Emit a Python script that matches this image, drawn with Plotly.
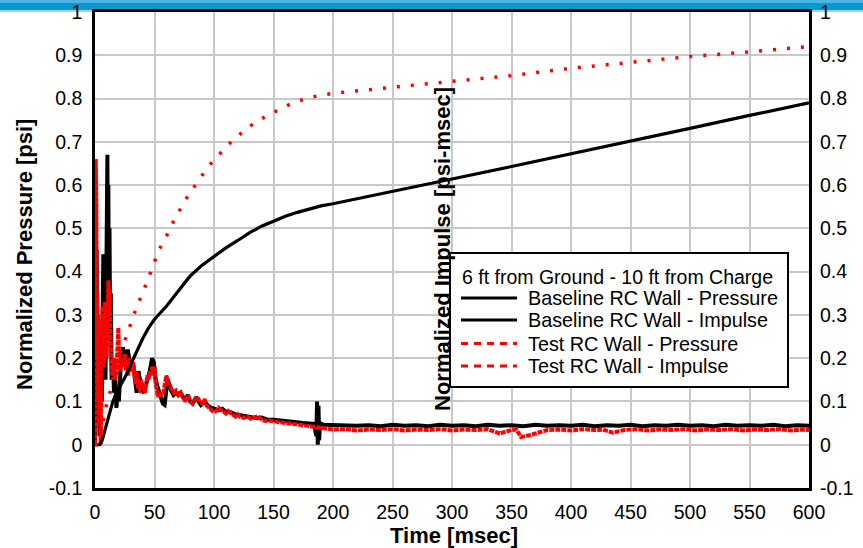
import plotly.graph_objects as go

# ---------------- data ----------------
base_p_t = [0, 0.3, 0.6, 1.0, 1.4, 1.8, 2.3, 2.8, 3.3, 3.8, 4.5, 5.2, 5.8, 6.5, 7.0, 7.5, 8.2, 8.8, 9.4,
            10.0, 10.4, 10.8, 11.2, 11.7, 12.2, 12.7, 13.3, 14, 15, 16, 17, 18, 19, 20, 21, 22, 23.5, 25,
            26, 27.5, 29, 30.5, 32, 33.5, 35, 36.5, 38, 39.5, 41, 42.5, 44, 46, 48, 49.5, 51, 53, 55, 57,
            58.5, 60, 61, 62.5, 64, 66, 68, 70, 72, 74, 76, 78, 80, 82, 85, 87, 89, 92, 95, 98, 101, 104,
            107, 110, 114, 118, 122, 126, 130, 135, 140, 145, 150, 155, 160, 165, 170, 175, 180, 184,
            186, 186.6, 187.2, 187.8, 188.4, 189, 192, 200, 210, 220, 230, 240, 250, 260, 270, 280, 290,
            300, 310, 320, 330, 340, 350, 360, 370, 380, 390, 400, 410, 420, 430, 440, 450, 460, 470,
            480, 490, 500, 510, 520, 530, 540, 550, 560, 570, 580, 590, 600]
base_p_v = [0, 0.3, 0.56, 0.2, 0.45, 0.05, 0.3, 0.1, 0.25, 0.02, 0.15, 0.25, 0.1, 0.3, 0.44, 0.2, 0.35,
            0.15, 0.3, 0.55, 0.67, 0.4, 0.6, 0.3, 0.5, 0.25, 0.35, 0.15, 0.2, 0.12, 0.15, 0.085, 0.12,
            0.1, 0.16, 0.2, 0.225, 0.19, 0.18, 0.22, 0.2, 0.17, 0.19, 0.15, 0.12, 0.17, 0.14, 0.125, 0.12,
            0.14, 0.15, 0.17, 0.2, 0.19, 0.15, 0.13, 0.11, 0.095, 0.092, 0.13, 0.15, 0.14, 0.125, 0.115,
            0.12, 0.115, 0.12, 0.11, 0.105, 0.115, 0.1, 0.095, 0.11, 0.1, 0.092, 0.1, 0.09, 0.085, 0.082,
            0.08, 0.083, 0.076, 0.075, 0.07, 0.068, 0.066, 0.064, 0.062, 0.063, 0.058, 0.058, 0.056,
            0.055, 0.053, 0.051, 0.05, 0.049, 0.048, 0.02, 0.1, 0.0, 0.09, 0.01, 0.05, 0.046, 0.045,
            0.046, 0.044, 0.045, 0.043, 0.046, 0.044, 0.045, 0.043, 0.046, 0.044, 0.045, 0.043, 0.046,
            0.044, 0.045, 0.043, 0.046, 0.044, 0.045, 0.044, 0.046, 0.043, 0.045, 0.044, 0.046, 0.043,
            0.045, 0.044, 0.046, 0.044, 0.045, 0.043, 0.046, 0.044, 0.045, 0.044, 0.046, 0.043, 0.045,
            0.044]

base_i_t = [0, 4, 6, 9, 12, 15, 18, 22, 26, 30, 35, 40, 45, 50, 55, 60, 70, 80, 90, 100, 110, 120,
            130, 140, 150, 160, 170, 180, 190, 200, 250, 300, 350, 400, 450, 500, 550, 600]
base_i_v = [0, 0, 0.01, 0.04, 0.075, 0.1, 0.12, 0.14, 0.16, 0.185, 0.215, 0.245, 0.27, 0.29, 0.305,
            0.32, 0.355, 0.39, 0.415, 0.435, 0.455, 0.472, 0.49, 0.505, 0.517, 0.528, 0.537, 0.545,
            0.552, 0.557, 0.585, 0.614, 0.643, 0.672, 0.702, 0.731, 0.761, 0.79]

test_p_t = [0, 0.3, 0.6, 0.9, 1.2, 1.5, 1.9, 2.3, 2.7, 3.1, 3.6, 4.2, 4.8, 5.3, 5.8, 6.3, 6.8, 7.3, 7.8,
            8.3, 8.8, 9.3, 9.8, 10.3, 10.8, 11.3, 11.8, 12.3, 12.8, 13.3, 14, 15, 16, 17, 18, 19, 19.6,
            20.2, 21, 22, 23, 24, 25, 26, 27, 28, 29, 30, 31, 32, 33, 34, 35, 36, 37, 38, 39, 40, 41, 42,
            43, 44, 45, 46, 47, 48, 49, 50, 51, 52, 53, 54, 55, 56, 57, 58, 59, 60, 61, 62, 64, 66, 68,
            70, 72, 74, 76, 78, 80, 82, 84, 86, 88, 90, 92, 94, 96, 98, 100, 102, 104, 106, 108, 110,
            112, 114, 116, 118, 120, 122, 125, 128, 131, 134, 137, 140, 143, 146, 150, 155, 160, 165,
            170, 175, 180, 185, 190, 195, 200, 210, 220, 230, 240, 250, 260, 270, 280, 290, 300, 310,
            320, 330, 340, 350, 354, 358, 365, 380, 390, 400, 410, 420, 427, 435, 445, 455, 465, 475,
            485, 495, 505, 515, 525, 535, 545, 555, 565, 575, 585, 595, 600]
test_p_v = [0, 0.4, 0.66, 0.3, 0.55, 0.2, 0.35, 0.1, 0.3, 0.15, 0.05, 0.12, 0.0, 0.1, 0.25, 0.32, 0.2,
            0.3, 0.18, 0.33, 0.22, 0.28, 0.2, 0.31, 0.25, 0.38, 0.3, 0.36, 0.27, 0.22, 0.17, 0.16, 0.2,
            0.15, 0.17, 0.23, 0.27, 0.2, 0.17, 0.19, 0.2, 0.18, 0.21, 0.17, 0.19, 0.16, 0.2, 0.18, 0.17,
            0.19, 0.16, 0.14, 0.17, 0.13, 0.15, 0.12, 0.15, 0.13, 0.14, 0.12, 0.14, 0.16, 0.15, 0.17,
            0.16, 0.18, 0.17, 0.18, 0.14, 0.12, 0.11, 0.12, 0.11, 0.12, 0.115, 0.13, 0.15, 0.16, 0.15,
            0.14, 0.13, 0.12, 0.125, 0.115, 0.12, 0.11, 0.1, 0.115, 0.1, 0.095, 0.105, 0.11, 0.1, 0.095,
            0.105, 0.09, 0.085, 0.08, 0.075, 0.078, 0.085, 0.08, 0.075, 0.072, 0.078, 0.074, 0.07,
            0.065, 0.07, 0.064, 0.062, 0.065, 0.06, 0.062, 0.066, 0.058, 0.055, 0.056, 0.054, 0.053,
            0.05, 0.049, 0.047, 0.046, 0.043, 0.041, 0.038, 0.036, 0.035, 0.036, 0.033, 0.035, 0.034,
            0.036, 0.033, 0.035, 0.034, 0.036, 0.033, 0.035, 0.034, 0.036, 0.026, 0.034, 0.035, 0.018,
            0.022, 0.034, 0.035, 0.033, 0.036, 0.034, 0.035, 0.028, 0.034, 0.036, 0.033, 0.035, 0.034,
            0.036, 0.033, 0.035, 0.034, 0.036, 0.033, 0.035, 0.034, 0.036, 0.033, 0.035, 0.034, 0.035]

test_i_t = [0, 3, 4.2, 6, 8.4, 10.5, 12.6, 15, 17.6, 20, 22.4, 24.5, 26.6, 28.7, 30.8, 33.2, 35.6, 40,
            44.8, 49, 53.8, 59.7, 64.4, 70, 75.6, 81.8, 88.2, 94.4, 101.4, 108.7, 116.8, 125.5, 133.6,
            142.9, 152.7, 162.4, 171.7, 185, 200, 225, 250, 275, 300, 350, 400, 450, 500, 550, 600]
test_i_v = [0, 0, 0.005, 0.04, 0.08, 0.1, 0.12, 0.155, 0.185, 0.205, 0.22, 0.237, 0.254, 0.27, 0.289,
            0.306, 0.323, 0.35, 0.385, 0.418, 0.45, 0.48, 0.508, 0.536, 0.564, 0.59, 0.614, 0.64, 0.662,
            0.684, 0.707, 0.725, 0.743, 0.758, 0.772, 0.785, 0.795, 0.805, 0.812, 0.82, 0.826, 0.833,
            0.84, 0.853, 0.87, 0.884, 0.897, 0.908, 0.92]

x_ticks = [0, 50, 100, 150, 200, 250, 300, 350, 400, 450, 500, 550, 600]
y_ticks = [-0.1, 0, 0.1, 0.2, 0.3, 0.4, 0.5, 0.6, 0.7, 0.8, 0.9, 1]
y_tick_text = ["-0.1", "0", "0.1", "0.2", "0.3", "0.4", "0.5", "0.6", "0.7", "0.8", "0.9", "1"]

legend_title = "6 ft from Ground - 10 ft from Charge"
legend_names = ["Baseline RC Wall - Pressure", "Baseline RC Wall - Impulse",
                "Test RC Wall - Pressure", "Test RC Wall - Impulse"]

# ---------------- layout helpers ----------------
W, H = 863, 548
L, R, T, B = 95, 54, 12, 60
PW, PH = W - L - R, H - T - B


def px(x):
    return (x - L) / PW


def py(y):
    return (H - B - y) / PH


FONT = "Liberation Sans, Arial, sans-serif"

fig = go.Figure()
fig.add_trace(go.Scatter(x=base_p_t, y=base_p_v, mode="lines", name=legend_names[0],
                         line=dict(color="black", width=4), showlegend=False))
fig.add_trace(go.Scatter(x=base_i_t, y=base_i_v, mode="lines", name=legend_names[1],
                         line=dict(color="black", width=3.2), yaxis="y2", showlegend=False))
fig.add_trace(go.Scatter(x=test_p_t, y=test_p_v, mode="lines", name=legend_names[2],
                         line=dict(color="#ff0000", width=4, dash="5px,1px"), showlegend=False))
fig.add_trace(go.Scatter(x=test_i_t, y=test_i_v, mode="lines", name=legend_names[3],
                         line=dict(color="#ff0000", width=3.5, dash="3px,11px"), yaxis="y2",
                         showlegend=False))

axis_common = dict(showgrid=True, gridcolor="#c8c8c8", gridwidth=1.5, zeroline=False,
                   automargin=False, tickfont=dict(family=FONT, size=19.5, color="black"))

fig.update_layout(
    width=W, height=H,
    margin=dict(l=L, r=R, t=T, b=B, autoexpand=False),
    paper_bgcolor="white", plot_bgcolor="white",
    showlegend=False,
    hovermode=False,
    xaxis=dict(range=[0, 600], tickvals=x_ticks, showline=True, linecolor="black", linewidth=2.5,
               mirror=True, ticks="outside", ticklen=5, tickcolor="rgba(0,0,0,0)", **axis_common),
    yaxis=dict(range=[-0.1, 1], tickvals=y_ticks, ticktext=y_tick_text, showline=True,
               linecolor="black", linewidth=2.5, mirror=True, ticks="outside", ticklen=6,
               tickcolor="rgba(0,0,0,0)", **axis_common),
    yaxis2=dict(range=[-0.1, 1], tickvals=y_ticks, ticktext=y_tick_text, overlaying="y",
                side="right", showgrid=False, zeroline=False, showline=False, ticks="outside",
                ticklen=6, tickcolor="rgba(0,0,0,0)", automargin=False,
                tickfont=dict(family=FONT, size=19.5, color="black")),
)

shapes = []
# header bar
shapes.append(dict(type="rect", xref="paper", yref="paper", x0=px(0), x1=px(W), y0=py(3), y1=py(0),
                   fillcolor="#4db5e2", line=dict(width=0), layer="below"))
shapes.append(dict(type="rect", xref="paper", yref="paper", x0=px(0), x1=px(W), y0=py(10), y1=py(3),
                   fillcolor="#0899d2", line=dict(width=0), layer="below"))
shapes.append(dict(type="rect", xref="paper", yref="paper", x0=px(0), x1=px(W), y0=py(12), y1=py(10),
                   fillcolor="#9fd3ec", line=dict(width=0), layer="below"))
# legend box
shapes.append(dict(type="rect", xref="paper", yref="paper", x0=px(450), x1=px(788), y0=py(387),
                   y1=py(253), fillcolor="white", line=dict(color="black", width=2), layer="above"))
legend_y = [298, 320, 343.5, 366]
legend_style = [dict(color="black", width=3.2), dict(color="black", width=3.2),
                dict(color="#ff0000", width=3.2, dash="7px,6px"),
                dict(color="#ff0000", width=3.2, dash="7px,6px")]
for yy, st in zip(legend_y, legend_style):
    shapes.append(dict(type="line", xref="paper", yref="paper", x0=px(461), x1=px(517), y0=py(yy),
                       y1=py(yy), line=st, layer="above"))

annotations = []
annotations.append(dict(text=legend_title, xref="paper", yref="paper", x=px(460), y=py(277),
                        xanchor="left", yanchor="middle", showarrow=False,
                        font=dict(family=FONT, size=19.5, color="black")))
for yy, name in zip(legend_y, legend_names):
    annotations.append(dict(text=name, xref="paper", yref="paper", x=px(526), y=py(yy),
                            xanchor="left", yanchor="middle", showarrow=False,
                            font=dict(family=FONT, size=19.8, color="black")))
# axis titles
annotations.append(dict(text="<b>Normalized Pressure [psi]</b>", xref="paper", yref="paper",
                        x=px(25), y=py(255), textangle=-90, xanchor="center", yanchor="middle",
                        showarrow=False, font=dict(family=FONT, size=22, color="black")))
annotations.append(dict(text="<b>Normalized Impulse [psi-msec]</b>", xref="paper", yref="paper",
                        x=px(442), y=py(249), textangle=-90, xanchor="center", yanchor="middle",
                        showarrow=False, font=dict(family=FONT, size=22, color="black")))
annotations.append(dict(text="<b>Time [msec]</b>", xref="paper", yref="paper",
                        x=px(454), y=py(535), xanchor="center", yanchor="middle",
                        showarrow=False, font=dict(family=FONT, size=22, color="black")))

fig.update_layout(shapes=shapes, annotations=annotations)
fig.write_html("out.html", config={"displayModeBar": False},
               post_script="document.body.style.margin='0';")
